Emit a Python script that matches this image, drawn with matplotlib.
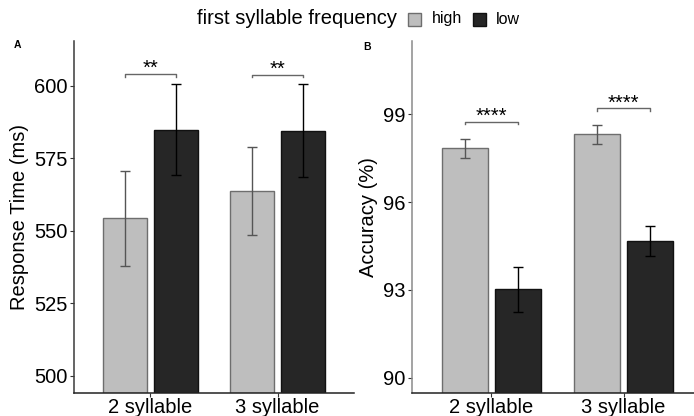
import numpy as np
import matplotlib.pyplot as plt

plt.rcParams['font.family'] = ['Liberation Sans', 'DejaVu Sans']

# data
groups = ['2 syllable', '3 syllable']
freq = ['high', 'low']

rt_mean = {'high': [554.4, 563.6], 'low': [584.9, 584.4]}
rt_lo = {'high': [537.9, 548.6], 'low': [569.2, 568.5]}
rt_hi = {'high': [570.6, 579.0], 'low': [600.7, 600.5]}
rt_sig = ['**', '**']
rt_sig_y = [604.1, 603.9]

acc_mean = {'high': [97.84, 98.32], 'low': [93.02, 94.68]}
acc_lo = {'high': [97.51, 97.99], 'low': [92.26, 94.16]}
acc_hi = {'high': [98.17, 98.63], 'low': [93.77, 95.19]}
acc_sig = ['****', '****']
acc_sig_y = [98.74, 99.20]

fill = {'high': '#bebebe', 'low': '#262626'}
edge = {'high': '#6e6e6e', 'low': '#111111'}
ecol = {'high': '#555555', 'low': '#000000'}

W, H = 694, 416
fig = plt.figure(figsize=(W / 100, H / 100), dpi=100)

def panel(rect, mean, lo, hi, sig, sig_y, ylim, yticks, ylabel, letter, lpos, spine_col, tick_len_units):
    ax = fig.add_axes(rect)
    x = np.arange(1, len(groups) + 1)
    for k, f in enumerate(freq):
        off = -0.2 if k == 0 else 0.2
        m = np.array(mean[f])
        err = np.vstack([m - np.array(lo[f]), np.array(hi[f]) - m])
        ax.bar(x + off, m - ylim[0], bottom=ylim[0], width=0.35, color=fill[f],
               edgecolor=edge[f], linewidth=1.0, zorder=2)
        ax.errorbar(x + off, m, yerr=err, fmt='none', ecolor=ecol[f],
                    elinewidth=1.0, capsize=3.5, capthick=1.0, zorder=3)
    # significance brackets
    for i in range(len(groups)):
        x0, x1 = x[i] - 0.2, x[i] + 0.2
        y = sig_y[i]
        d = tick_len_units
        ax.plot([x0, x0, x1, x1], [y - d, y, y, y - d], color='#666666', lw=1.0, zorder=3)
        ax.text((x0 + x1) / 2, y, sig[i], ha='center', va='baseline', fontsize=14.5, color='black')
    ax.set_xlim(0.4, 2.6)
    ax.set_ylim(*ylim)
    ax.set_xticks(x)
    ax.set_xticklabels(groups, fontsize=14.5)
    ax.set_yticks(yticks)
    ax.set_yticklabels([str(t) for t in yticks], fontsize=14.5)
    ax.tick_params(axis='both', length=3, width=0.8, colors='#333333', labelcolor='black', pad=1.5)
    ax.tick_params(axis='x', pad=0.5)
    for s in ['top', 'right']:
        ax.spines[s].set_visible(False)
    ax.spines['left'].set_color(spine_col)
    ax.spines['left'].set_linewidth(1.1)
    ax.spines['bottom'].set_color('#222222')
    ax.spines['bottom'].set_linewidth(1.1)
    ax.set_ylabel(ylabel, fontsize=14.5, labelpad=4)
    fig.text(lpos[0] / W, 1 - lpos[1] / H, letter, fontsize=7.5, fontweight='bold', ha='left', va='top')
    return ax

axA = panel([74 / W, (H - 393.3) / H, (354 - 74) / W, (393.3 - 41) / H],
            rt_mean, rt_lo, rt_hi, rt_sig, rt_sig_y, (494.0, 615.5),
            [500, 525, 550, 575, 600], 'Response Time (ms)', 'A', (13.5, 40.5), '#3a3a3a', 0.9)
axB = panel([412 / W, (H - 393.3) / H, (703 - 412) / W, (393.3 - 41) / H],
            acc_mean, acc_lo, acc_hi, acc_sig, acc_sig_y, (89.47, 101.5),
            [90, 93, 96, 99], 'Accuracy (%)', 'B', (363, 42.5), '#8a8a8a', 0.09)

# legend on top
fig.text(197 / W, 1 - 19 / H, 'first syllable frequency', fontsize=14.5, ha='left', va='center')
for f, bx, tx, lab in [('high', 408, 432, 'high'), ('low', 473, 496, 'low')]:
    fig.patches.append(plt.Rectangle((bx / W, 1 - 26 / H), 13 / W, 13 / H, transform=fig.transFigure,
                                     facecolor=fill[f], edgecolor=edge[f], linewidth=1.0))
    fig.text(tx / W, 1 - 19 / H, lab, fontsize=11.5, ha='left', va='center')

fig.savefig('out.png', dpi=100)
